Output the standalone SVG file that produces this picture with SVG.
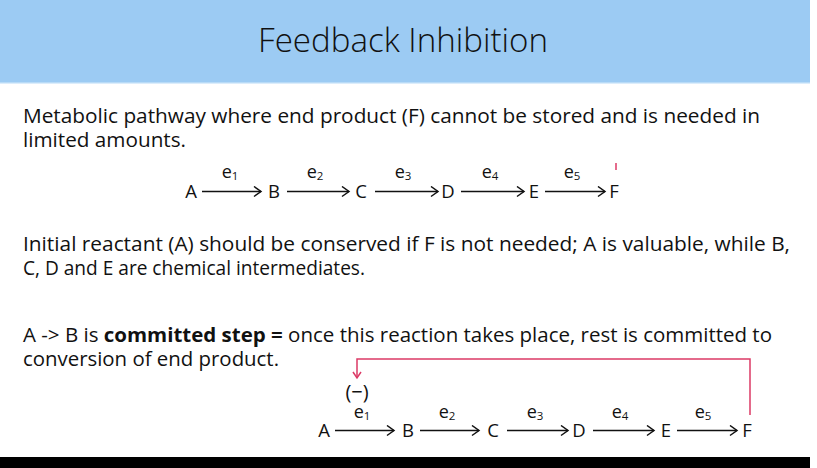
<svg xmlns="http://www.w3.org/2000/svg" width="817" height="468" viewBox="0 0 817 468">
<style>
.body{font-family:"Open Sans","Liberation Sans",sans-serif;font-size:19.5px;fill:#111}
.node{font-family:"Open Sans","Liberation Sans",sans-serif;font-size:18.5px;fill:#111;text-anchor:middle}
.lab{font-family:"Open Sans","Liberation Sans",sans-serif;font-size:18px;fill:#111;text-anchor:middle}
.sub{font-size:11.5px}
.arr{stroke:#111;stroke-width:1.5;fill:none;marker-end:url(#ah)}
.fb{stroke:#DC3A66;stroke-width:1.5;fill:none}
</style>
<defs>
<marker id="ah" markerUnits="userSpaceOnUse" markerWidth="12" markerHeight="12" viewBox="-10 -6 12 12" refX="0" refY="0" orient="auto">
<path d="M-7,-5 L0,0 L-7,5" fill="none" stroke="#111" stroke-width="1.5"/>
</marker>
<marker id="ahr" markerUnits="userSpaceOnUse" markerWidth="12" markerHeight="12" viewBox="-10 -6 12 12" refX="0" refY="0" orient="auto">
<path d="M-6,-4 L0,0 L-6,4" fill="none" stroke="#DC3A66" stroke-width="1.5"/>
</marker>
</defs>
<rect x="0" y="0" width="817" height="468" fill="#fff"/>
<rect x="0" y="0" width="810" height="82" fill="#9CCBF3"/>
<rect x="0" y="82" width="810" height="1.5" fill="#b9dbf7"/>
<rect x="0" y="457" width="810" height="11" fill="#000"/>
<text x="258" y="52" font-family="'Open Sans','Liberation Sans',sans-serif" font-weight="300" font-size="33" fill="#111" textLength="290" lengthAdjust="spacingAndGlyphs">Feedback Inhibition</text>

<text class="body" x="23" y="123" textLength="737" lengthAdjust="spacingAndGlyphs">Metabolic pathway where end product (F) cannot be stored and is needed in</text>
<text class="body" x="23" y="147" textLength="163" lengthAdjust="spacingAndGlyphs">limited amounts.</text>
<text class="body" x="23" y="251" textLength="767" lengthAdjust="spacingAndGlyphs">Initial reactant (A) should be conserved if F is not needed; A is valuable, while B,</text>
<text class="body" x="23" y="275" textLength="342" lengthAdjust="spacingAndGlyphs">C, D and E are chemical intermediates.</text>
<text class="body" x="23" y="342" textLength="749" lengthAdjust="spacingAndGlyphs">A -&gt; B is <tspan font-weight="bold">committed step =</tspan> once this reaction takes place, rest is committed to</text>
<text class="body" x="23" y="366" textLength="256" lengthAdjust="spacingAndGlyphs">conversion of end product.</text>

<g id="pathway1">
<g id="p1-A"><text class="node" x="191" y="198">A</text></g>
<g id="p1-B"><text class="node" x="274" y="198">B</text></g>
<g id="p1-C"><text class="node" x="361" y="198">C</text></g>
<g id="p1-D"><text class="node" x="448" y="198">D</text></g>
<g id="p1-E"><text class="node" x="534" y="198">E</text></g>
<g id="p1-F"><text class="node" x="614" y="198">F</text></g>
</g>
<g id="connectors1">
<line class="arr" x1="202" y1="191.5" x2="261" y2="191.5"/>
<line class="arr" x1="287" y1="191.5" x2="349" y2="191.5"/>
<line class="arr" x1="375" y1="191.5" x2="438" y2="191.5"/>
<line class="arr" x1="461" y1="191.5" x2="524" y2="191.5"/>
<line class="arr" x1="545" y1="191.5" x2="605" y2="191.5"/>
<text class="lab" x="230" y="178">e<tspan class="sub" dy="2">1</tspan></text>
<text class="lab" x="315" y="178">e<tspan class="sub" dy="2">2</tspan></text>
<text class="lab" x="403" y="178">e<tspan class="sub" dy="2">3</tspan></text>
<text class="lab" x="490" y="178">e<tspan class="sub" dy="2">4</tspan></text>
<text class="lab" x="572" y="178">e<tspan class="sub" dy="2">5</tspan></text>
<line x1="616" y1="163" x2="616" y2="170" stroke="#DC3A66" stroke-width="1.5"/>
</g>

<g id="pathway2">
<g id="p2-A"><text class="node" x="324" y="437">A</text></g>
<g id="p2-B"><text class="node" x="408" y="437">B</text></g>
<g id="p2-C"><text class="node" x="493" y="437">C</text></g>
<g id="p2-D"><text class="node" x="579" y="437">D</text></g>
<g id="p2-E"><text class="node" x="666" y="437">E</text></g>
<g id="p2-F"><text class="node" x="747" y="437">F</text></g>
</g>
<g id="connectors2">
<line class="arr" x1="335" y1="430.5" x2="394" y2="430.5"/>
<line class="arr" x1="420" y1="430.5" x2="479" y2="430.5"/>
<line class="arr" x1="507" y1="430.5" x2="568" y2="430.5"/>
<line class="arr" x1="593" y1="430.5" x2="654" y2="430.5"/>
<line class="arr" x1="677" y1="430.5" x2="737" y2="430.5"/>
<text class="lab" x="362" y="418">e<tspan class="sub" dy="2">1</tspan></text>
<text class="lab" x="447" y="418">e<tspan class="sub" dy="2">2</tspan></text>
<text class="lab" x="535" y="418">e<tspan class="sub" dy="2">3</tspan></text>
<text class="lab" x="620" y="418">e<tspan class="sub" dy="2">4</tspan></text>
<text class="lab" x="703" y="418">e<tspan class="sub" dy="2">5</tspan></text>
<path class="fb" d="M750,415 V359 H357 V378" marker-end="url(#ahr)"/>
<text x="357" y="399" font-family="'Open Sans','Liberation Sans',sans-serif" font-size="20" fill="#111" text-anchor="middle">(−)</text>
</g>
</svg>
